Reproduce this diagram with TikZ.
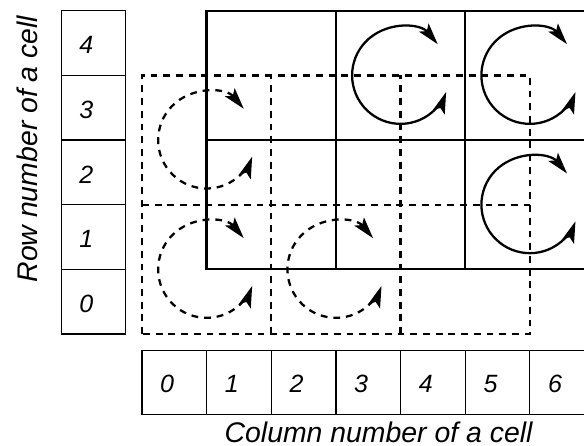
\documentclass[tikz,border=0pt]{standalone}
\usepackage{fontspec}
\setmainfont{Liberation Sans}
\usetikzlibrary{arrows.meta}

\begin{document}
\begin{tikzpicture}[
    cellbox/.style={line width=0.5pt},
    solidgrid/.style={line width=1pt},
    dashgrid/.style={line width=1pt, dash pattern=on 3pt off 2.6pt},
    turn/.style={line width=1pt, {Stealth[length=9.5pt,width=5.5pt,inset=2pt]}-{Stealth[length=9.5pt,width=5.5pt,inset=2pt]}},
    digit/.style={font=\fontsize{11}{13}\selectfont\itshape, inner sep=0pt},
    axislabel/.style={font=\fontsize{12.5}{15}\selectfont\itshape}
]
    \clip[use as bounding box] (-2.196,-1.732) rectangle (6.837,5.166);

    % Row numbers (left)
    \foreach \r in {0,...,4} {
        \draw[cellbox] (-1.25,\r) rectangle (-0.26,\r+1);
        \node[digit] (row\r) at (-0.86,\r+0.47) {\r};
    }
    \node[axislabel, rotate=90] (rowtitle) at (-1.78,2.86) {Row number of a cell};

    % Column numbers (bottom)
    \foreach \c in {0,...,6} {
        \draw[cellbox] (\c,-0.26) rectangle (\c+1,-1.25);
        \node[digit] (col\c) at (\c+0.39,-0.77) {\c};
    }
    \node[axislabel] (coltitle) at (3.66,-1.52) {Column number of a cell};

    % Solid grid
    \draw[solidgrid] (1,1) rectangle (7,5);
    \foreach \x in {3,5} \draw[solidgrid] (\x,1) -- (\x,5);
    \draw[solidgrid] (1,3) -- (7,3);

    % Dashed grid
    \draw[dashgrid] (0,0) rectangle (6,4);
    \foreach \x in {2,4} \draw[dashgrid] (\x,0) -- (\x,4);
    \draw[dashgrid] (0,2) -- (6,2);

    % Rotation centres
    \coordinate (s1) at (4,4);
    \coordinate (s2) at (6,4);
    \coordinate (s3) at (6,2);
    \coordinate (d1) at (1,3);
    \coordinate (d2) at (1,1);
    \coordinate (d3) at (3,1);

    % Solid turns
    \foreach \c in {s1,s2,s3}
        \draw[turn] ([shift={(40:0.75)}]\c) arc[start angle=40, end angle=340, radius=0.75];
    % Dashed turns
    \foreach \c in {d1,d2,d3}
        \draw[turn, dash pattern=on 3pt off 2.6pt] ([shift={(40:0.75)}]\c) arc[start angle=40, end angle=340, radius=0.75];
\end{tikzpicture}
\end{document}
